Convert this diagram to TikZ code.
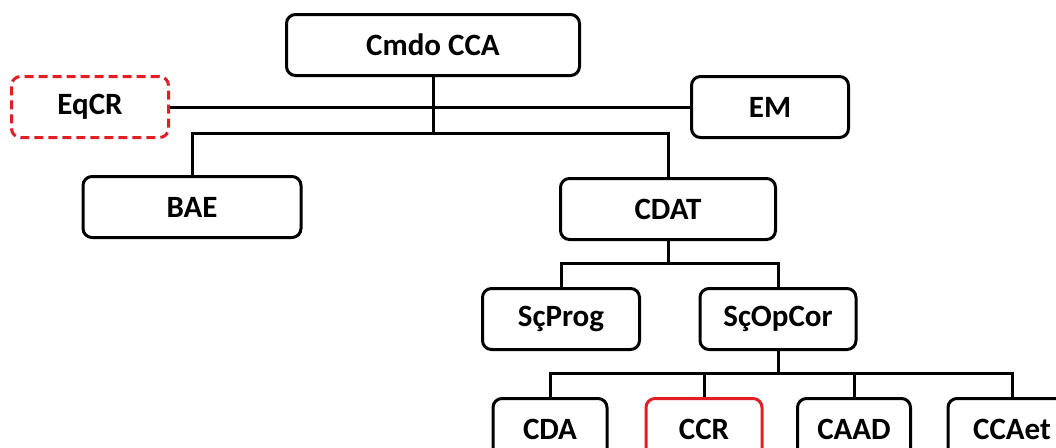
\documentclass[tikz,border=0pt]{standalone}
\usepackage{fontspec}
\setmainfont{Carlito}
\definecolor{boxred}{RGB}{225,30,35}
\begin{document}
\begin{tikzpicture}[x=1pt,y=-1pt,
  box/.style={draw, line width=3pt, rounded corners=9pt, inner sep=0pt,
    minimum height=61pt, font=\bfseries\fontsize{31}{36}\selectfont},
  redbox/.style={box, draw=boxred},
  conn/.style={line width=3pt}]
\useasboundingbox (0,0) rectangle (1056,447);
\node[box, minimum width=293pt] (cmdo) at (433,45) {Cmdo CCA};
\node[redbox, dash pattern=on 9pt off 5pt, minimum width=157pt] (eqcr) at (90,107) {EqCR};
\node[box, minimum width=157pt] (em) at (770,107) {EM};
\node[box, minimum width=218pt] (bae) at (192,207) {BAE};
\node[box, minimum width=215pt] (cdat) at (668,209) {CDAT};
\node[box, minimum width=157pt] (sp) at (561,319) {SçProg};
\node[box, minimum width=156pt] (sop) at (778,319) {SçOpCor};
\node[box, minimum width=114pt, anchor=north] (cda) at (550,397) {CDA};
\node[redbox, minimum width=116pt, anchor=north] (ccr) at (704,397) {CCR};
\node[box, minimum width=113pt, anchor=north] (caad) at (854,397) {CAAD};
\node[box, minimum width=128pt, anchor=north] (ccaet) at (1012,397) {CCAet};
\coordinate (b1) at (433,133);
\coordinate (b2) at (668,263);
\coordinate (b3) at (778,373);
\draw[conn] (eqcr.east) -- (em.west);
\draw[conn] (cmdo.south) -- (b1);
\draw[conn] (bae.north) |- (b1) -| (cdat.north);
\draw[conn] (cdat.south) -- (b2);
\draw[conn] (sp.north) |- (b2) -| (sop.north);
\draw[conn] (sop.south) -- (b3);
\draw[conn] (cda.north) |- (b3) -| (ccaet.north);
\draw[conn] (ccr.north) -- (ccr.north |- b3);
\draw[conn] (caad.north) -- (caad.north |- b3);
\end{tikzpicture}
\end{document}
